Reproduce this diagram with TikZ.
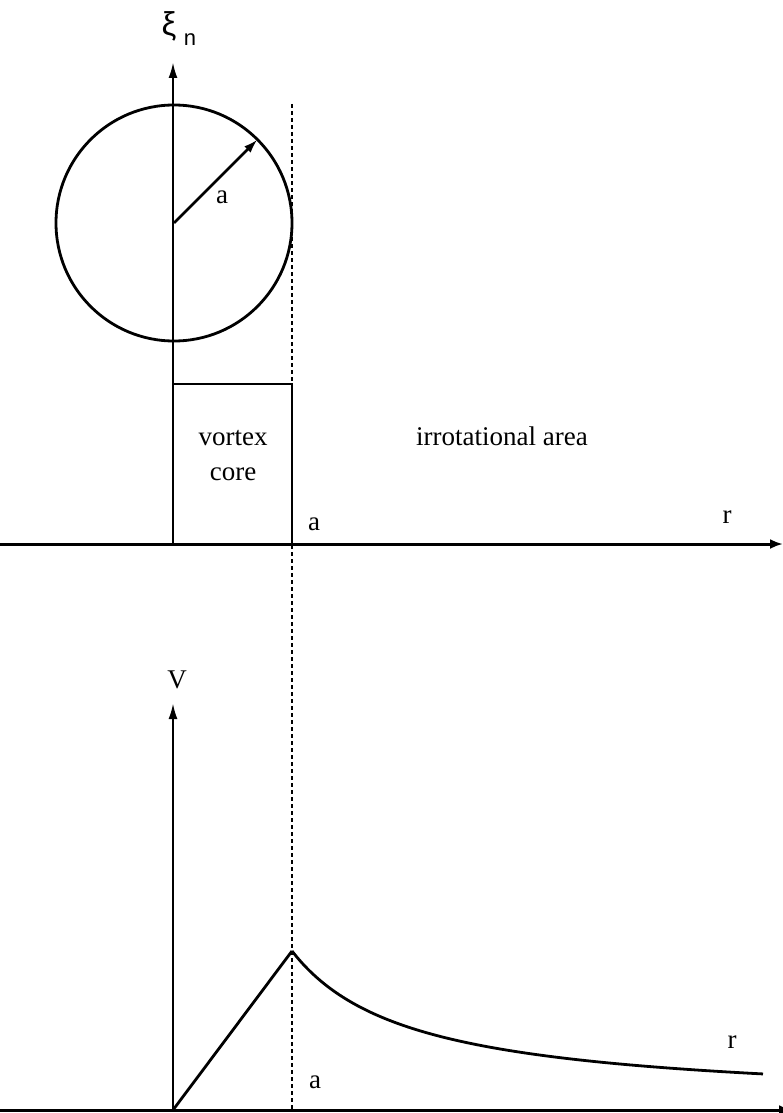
\documentclass[tikz,border=0pt]{standalone}
\usepackage{fontspec}
\setmainfont{Liberation Serif}
\newfontfamily\greekfont{Liberation Sans}
\usetikzlibrary{arrows.meta}
\begin{document}
\begin{tikzpicture}[x=1pt,y=-1pt,
  axisline/.style={line width=3pt,-{Latex[length=13pt,width=10pt]}},
  vaxis/.style={line width=2.4pt,-{Latex[length=16pt,width=9pt]}},
  solidline/.style={line width=2.6pt},
  dotline/.style={line width=2.2pt,dash pattern=on 4pt off 3pt},
  lbl/.style={inner sep=0pt,anchor=base,font=\fontsize{27}{32}\selectfont}]
\useasboundingbox (0,0) rectangle (783,1113);
% top graph coordinates
\coordinate (L1) at (0,544);
\coordinate (R1) at (783,544);
\coordinate (O1) at (173,544);
\coordinate (T1) at (173,62);
\coordinate (C) at (174,223);
\coordinate (P) at (257.4,139.6);
\coordinate (RT) at (173,384);
\coordinate (RR) at (292,384);
\coordinate (RB) at (292,544);
\coordinate (D1) at (292,104);
\coordinate (D2) at (292,1110);
% bottom graph coordinates
\coordinate (L2) at (0,1110);
\coordinate (R2) at (792,1110);
\coordinate (O2) at (173,1110);
\coordinate (T2) at (173,703);
\coordinate (PK) at (292,951);
% axes
\draw[axisline] (L1) -- (R1);
\draw[vaxis] (O1) -- (T1);
\draw[axisline] (L2) -- (R2);
\draw[vaxis] (O2) -- (T2);
% circle and radius
\draw[line width=2.8pt] (C) circle[radius=118];
\draw[line width=2.6pt,-{Latex[length=14pt,width=9pt]}] (C) -- (P);
% vortex core box
\draw[solidline] (RT) -- (RR) -- (RB);
% dotted boundary
\draw[dotline] (D1) -- (D2);
% velocity profile
\draw[line width=2.8pt,line join=miter] (O2) -- (PK);
\draw[line width=2.8pt] plot[domain=292:763,samples=80,smooth] (\x,{1110-5-154*(119/(\x-173))});
% labels
\node[lbl] (xi) at (169,36) {\greekfont\fontsize{33}{36}\selectfont ξ};
\node[lbl] (xin) at (190,46) {\greekfont\fontsize{22}{26}\selectfont n};
\node[lbl] (ra) at (222,203) {a};
\node[lbl] (vortex) at (233,445) {vortex};
\node[lbl] (core) at (233,480) {core};
\node[lbl] (irr) at (502,445) {irrotational area};
\node[lbl] (a1) at (314,530) {a};
\node[lbl] (r1) at (727,523) {r};
\node[lbl] (V) at (177,688) {V};
\node[lbl] (r2) at (732,1048) {r};
\node[lbl] (a2) at (315,1088) {a};
\end{tikzpicture}
\end{document}
